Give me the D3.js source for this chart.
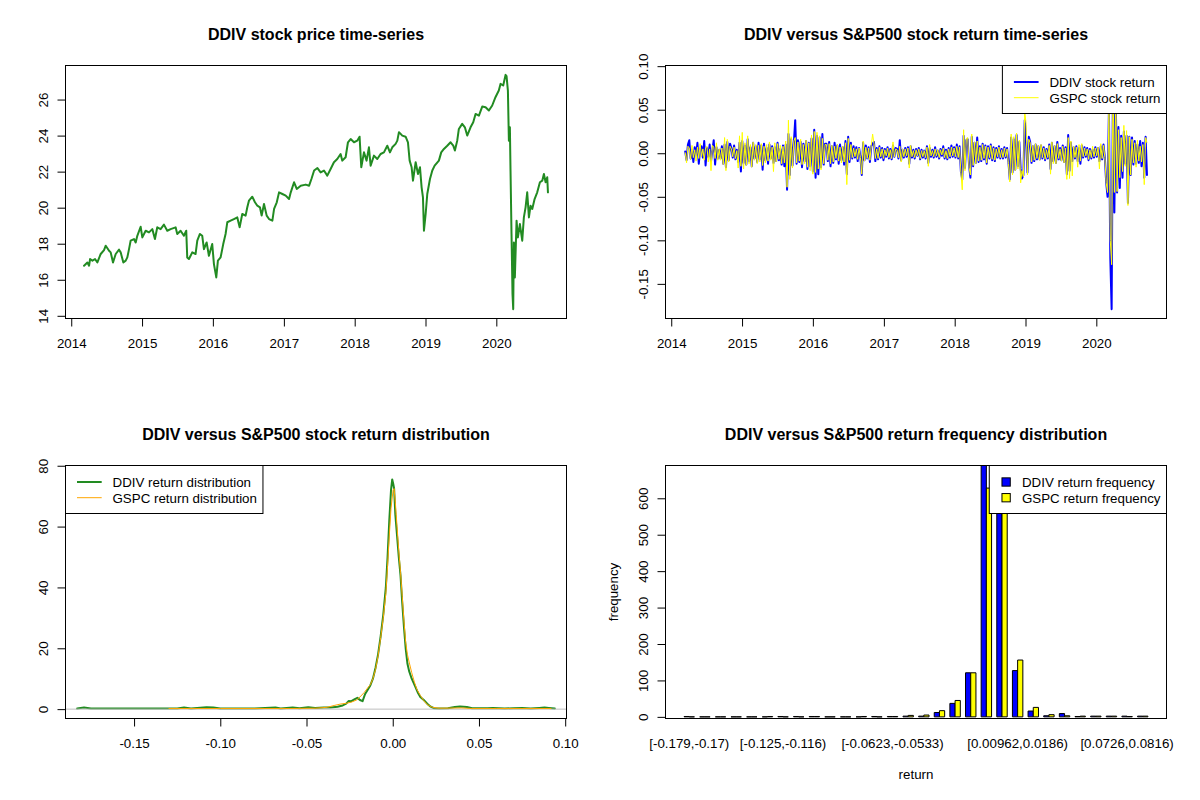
<!DOCTYPE html>
<html>
<head>
<meta charset="utf-8">
<script src="https://cdn.jsdelivr.net/npm/d3@7/dist/d3.min.js"></script>
<style>
  body { margin: 0; background: #fff; }
  svg text { font-family: "Liberation Sans", Arial, sans-serif; fill: #000; }
</style>
</head>
<body>
<svg id="chart" width="1200" height="800"></svg>
<script>
// ---- data ----

// DDIV closing price, [decimal year, price]
const ddivPrice = [
  [2014.181,16.78],[2014.228,16.96],[2014.252,16.78],[2014.266,17.15],[2014.299,17.06],[2014.336,17.15],
  [2014.369,16.96],[2014.416,17.43],[2014.463,17.65],[2014.487,17.89],[2014.534,17.61],[2014.557,17.52],
  [2014.590,16.96],[2014.628,17.43],[2014.675,17.67],[2014.698,17.52],[2014.736,16.96],[2014.769,17.06],
  [2014.792,17.24],[2014.816,17.70],[2014.839,18.17],[2014.886,18.26],[2014.910,18.07],[2014.933,18.44],
  [2014.980,18.94],[2015.004,18.35],[2015.051,18.72],[2015.098,18.63],[2015.145,18.81],[2015.182,18.26],
  [2015.215,18.91],[2015.262,18.81],[2015.309,19.06],[2015.356,18.72],[2015.403,18.81],[2015.474,18.91],
  [2015.497,18.54],[2015.544,18.72],[2015.591,18.44],[2015.624,18.72],[2015.638,17.24],[2015.662,17.15],
  [2015.709,17.52],[2015.756,17.43],[2015.780,18.17],[2015.817,18.54],[2015.850,18.44],[2015.874,17.70],
  [2015.912,18.07],[2015.944,17.33],[2015.991,17.98],[2016.015,16.87],[2016.048,16.13],[2016.071,17.06],
  [2016.109,17.24],[2016.146,17.98],[2016.179,18.54],[2016.203,19.19],[2016.250,19.28],[2016.297,19.37],
  [2016.344,19.46],[2016.377,18.91],[2016.414,19.65],[2016.461,19.56],[2016.485,20.02],[2016.508,20.39],
  [2016.555,20.61],[2016.593,20.30],[2016.626,20.11],[2016.663,20.02],[2016.687,19.56],[2016.720,20.20],
  [2016.758,19.56],[2016.791,19.37],[2016.838,19.28],[2016.862,19.93],[2016.900,20.30],[2016.932,20.85],
  [2016.979,20.76],[2017.026,20.67],[2017.073,20.48],[2017.097,20.85],[2017.144,21.41],[2017.182,21.04],
  [2017.238,21.22],[2017.309,21.28],[2017.356,21.22],[2017.389,21.59],[2017.427,22.06],[2017.474,22.20],
  [2017.519,21.96],[2017.566,22.06],[2017.613,21.78],[2017.660,22.15],[2017.707,22.52],[2017.754,22.70],
  [2017.801,22.98],[2017.825,22.61],[2017.872,22.80],[2017.905,23.63],[2017.943,23.81],[2017.990,23.63],
  [2018.036,23.72],[2018.069,23.94],[2018.093,22.24],[2018.131,23.07],[2018.168,22.61],[2018.201,23.35],
  [2018.225,22.33],[2018.272,22.89],[2018.319,22.70],[2018.366,22.98],[2018.413,23.07],[2018.460,23.44],
  [2018.498,23.07],[2018.531,23.35],[2018.578,23.54],[2018.602,23.72],[2018.625,24.19],[2018.672,24.00],
  [2018.719,23.94],[2018.752,23.63],[2018.776,22.61],[2018.804,22.24],[2018.823,21.50],[2018.861,22.52],
  [2018.894,21.87],[2018.922,22.24],[2018.945,21.13],[2018.964,20.57],[2018.978,18.72],[2019.002,19.65],
  [2019.025,20.76],[2019.063,21.59],[2019.096,22.06],[2019.129,22.33],[2019.189,22.61],[2019.222,23.07],
  [2019.260,23.26],[2019.307,23.44],[2019.354,23.63],[2019.392,23.44],[2019.415,23.17],[2019.448,23.72],
  [2019.471,24.37],[2019.518,24.65],[2019.556,24.46],[2019.589,24.00],[2019.636,24.46],[2019.674,24.74],
  [2019.707,25.20],[2019.754,25.11],[2019.801,25.61],[2019.848,25.57],[2019.895,25.39],[2019.942,25.67],
  [2019.988,26.13],[2020.035,26.50],[2020.059,26.87],[2020.097,26.78],[2020.130,27.37],[2020.144,27.30],
  [2020.163,26.50],[2020.177,23.72],[2020.191,24.46],[2020.200,22.06],[2020.214,18.54],[2020.228,15.20],
  [2020.238,14.37],[2020.247,18.07],[2020.261,16.13],[2020.285,19.28],[2020.304,18.35],[2020.332,19.09],
  [2020.365,18.17],[2020.388,19.46],[2020.412,20.02],[2020.435,20.85],[2020.459,19.46],[2020.482,20.11],
  [2020.506,19.93],[2020.539,20.48],[2020.576,20.85],[2020.614,21.41],[2020.647,21.50],[2020.670,21.87],
  [2020.694,21.41],[2020.717,21.69],[2020.727,20.85]
];

// weekly returns, first week ending 2014-03-14, one row per half year
const retStart = new Date(2014, 2, 14);
const ddivReturn = [
  0.002,-0.008,0.010,0.015,-0.006,0.004,-0.010,0.007,-0.003,0.012,-0.012,0.005,0.008,-0.005,0.014,-0.014,0.006,-0.004,0.010,-0.009,0.003,0.015,-0.013,0.007,-0.006,0.004,
  -0.006,0.008,-0.012,0.010,-0.016,0.013,-0.008,0.011,0.006,-0.005,0.009,-0.007,0.004,-0.010,0.012,-0.021,0.014,-0.011,0.009,-0.013,0.016,-0.009,0.007,-0.015,0.012,-0.006,
  0.008,-0.010,0.012,-0.007,0.009,-0.019,0.011,-0.008,0.006,-0.012,0.010,-0.006,0.008,-0.011,0.007,-0.009,0.012,-0.008,0.005,-0.013,0.009,-0.015,0.010,-0.042,0.022,-0.025,
  0.016,-0.014,0.012,0.038,-0.012,0.015,-0.010,0.013,-0.016,0.011,-0.009,0.014,-0.018,0.012,-0.015,0.017,-0.021,0.027,-0.028,0.020,-0.024,0.018,-0.016,0.022,-0.013,0.011,
  0.011,-0.009,0.013,-0.015,0.008,-0.011,0.012,-0.007,0.009,-0.012,0.010,-0.008,0.007,-0.013,0.014,-0.024,0.019,-0.010,0.012,-0.006,0.008,-0.005,0.007,-0.009,0.006,-0.004,
  -0.025,0.012,-0.008,0.009,-0.006,0.007,-0.010,0.008,0.011,0.013,-0.009,0.006,-0.007,0.008,-0.005,0.006,-0.008,0.005,-0.004,0.007,-0.006,0.005,-0.007,0.009,-0.004,0.006,
  0.005,-0.006,0.015,-0.008,0.004,-0.005,0.006,-0.004,0.007,-0.012,0.008,-0.005,0.004,-0.006,0.005,-0.003,0.006,-0.007,0.004,-0.005,0.003,-0.006,0.008,-0.011,0.006,-0.004,
  0.004,-0.005,0.007,-0.004,0.003,-0.006,0.005,-0.003,0.008,-0.006,0.004,-0.007,0.006,-0.005,0.009,-0.004,0.007,-0.005,0.010,-0.006,0.008,-0.021,-0.030,0.020,-0.017,0.015,
  0.016,-0.014,-0.028,0.019,-0.015,0.012,-0.011,0.018,-0.010,0.008,-0.009,0.011,-0.007,0.009,-0.012,0.008,-0.006,0.010,-0.008,0.007,-0.009,0.006,-0.005,0.008,-0.006,0.005,
  -0.006,0.007,-0.005,0.006,-0.010,-0.030,0.018,-0.022,0.016,-0.019,0.021,-0.015,0.013,-0.018,-0.029,-0.025,0.038,0.015,-0.022,0.019,0.013,-0.011,0.008,-0.009,0.010,-0.007,
  0.008,-0.007,0.009,-0.006,0.007,-0.008,0.005,-0.006,0.010,-0.018,0.012,-0.009,0.008,-0.011,0.013,-0.007,0.006,-0.008,0.009,-0.010,0.007,-0.024,0.021,-0.020,0.012,-0.009,
  0.007,-0.006,0.008,-0.009,0.006,-0.012,0.009,-0.005,0.007,-0.004,0.006,-0.008,0.005,-0.006,0.004,-0.005,0.007,-0.004,0.006,-0.009,0.008,-0.007,0.010,-0.005,-0.034,-0.050,
  0.050,-0.120,-0.179,0.090,-0.068,0.065,-0.045,0.030,-0.040,0.020,-0.028,0.025,-0.012,0.020,-0.057,0.019,-0.025,0.018,-0.013,0.014,-0.012,0.010,-0.011,0.014,-0.015,0.012,
  -0.028,0.019,-0.025
];
const gspcReturn = [
  0.001,-0.011,0.008,0.006,-0.007,0.009,-0.005,0.004,-0.009,0.007,-0.006,0.011,-0.004,0.005,-0.008,0.006,0.008,-0.010,0.005,-0.020,0.009,0.007,-0.006,0.012,-0.008,0.005,
  -0.008,0.006,-0.013,0.018,-0.020,0.016,-0.010,0.008,0.005,-0.004,0.007,-0.006,0.003,-0.017,0.020,-0.015,0.024,-0.018,0.012,-0.014,0.020,-0.012,0.010,-0.016,0.013,-0.008,
  0.010,-0.012,0.009,-0.010,0.011,-0.014,0.008,-0.011,0.010,-0.009,0.013,-0.008,0.007,-0.021,0.012,-0.010,0.011,-0.007,0.009,-0.012,0.008,-0.011,0.014,-0.039,0.038,-0.030,
  0.019,-0.017,0.014,0.018,-0.011,0.013,-0.009,0.016,-0.013,0.010,-0.012,0.015,-0.016,0.012,-0.020,0.021,-0.024,0.025,-0.022,0.024,-0.018,0.020,-0.019,0.017,-0.012,0.010,
  0.010,-0.008,0.011,-0.012,0.009,-0.010,0.008,-0.006,0.010,-0.009,0.007,-0.011,0.008,-0.010,0.012,-0.036,0.017,-0.008,0.010,-0.005,0.006,-0.004,0.005,-0.007,0.006,-0.005,
  -0.024,0.014,-0.009,0.007,-0.006,0.006,-0.008,0.009,0.022,0.011,-0.006,0.005,-0.006,0.007,-0.004,0.005,-0.006,0.004,-0.003,0.006,-0.005,0.004,-0.006,0.013,-0.004,0.005,
  0.004,-0.005,0.008,-0.010,0.005,-0.004,0.005,-0.003,0.006,-0.017,0.009,-0.004,0.003,-0.005,0.004,-0.003,0.005,-0.006,0.003,-0.004,0.003,-0.005,0.007,-0.015,0.010,-0.003,
  0.003,-0.004,0.005,-0.003,0.004,-0.005,0.004,-0.002,0.006,-0.005,0.003,-0.006,0.005,-0.004,0.007,-0.003,0.006,-0.004,0.008,-0.005,0.007,-0.022,-0.042,0.027,-0.020,0.017,
  0.018,-0.016,-0.025,0.022,-0.014,0.013,-0.012,0.014,-0.009,0.007,-0.008,0.010,-0.006,0.008,-0.011,0.007,-0.005,0.009,-0.007,0.006,-0.008,0.005,-0.004,0.007,-0.005,0.004,
  -0.005,0.006,-0.004,0.005,-0.012,-0.033,0.022,-0.025,0.019,-0.020,0.023,-0.018,0.015,-0.034,-0.020,-0.027,0.048,0.034,-0.025,0.016,0.012,-0.010,0.009,-0.008,0.011,-0.006,
  0.009,-0.008,0.010,-0.005,0.006,-0.007,0.004,-0.005,0.009,-0.024,0.013,-0.012,0.009,-0.012,0.011,-0.006,0.005,-0.009,0.008,-0.011,0.006,-0.030,0.018,-0.029,0.014,-0.026,
  0.008,-0.005,0.007,-0.016,0.010,-0.009,0.011,-0.004,0.006,-0.003,0.005,-0.007,0.004,-0.005,0.008,-0.004,0.006,-0.003,0.007,-0.018,0.011,-0.006,0.009,-0.005,-0.034,-0.045,
  0.046,-0.100,-0.128,0.090,-0.045,0.070,-0.044,0.027,-0.028,0.018,-0.021,0.032,-0.015,0.026,-0.060,0.019,-0.025,0.016,-0.011,0.012,-0.016,0.015,-0.009,0.008,-0.010,0.010,
  -0.036,0.018,0.012
];

// kernel density of the returns, [return, density]
const ddivDensity = [
  [-0.1830,0.2],[-0.1790,0.5],[-0.1750,0.2],[-0.1500,0.2],[-0.1250,0.2],[-0.1210,0.5],[-0.1170,0.2],
  [-0.1080,0.6],[-0.1040,0.5],[-0.1000,0.2],[-0.0800,0.2],[-0.0680,0.5],[-0.0650,0.2],[-0.0580,0.5],
  [-0.0540,0.3],[-0.0490,0.6],[-0.0450,0.4],[-0.0400,0.5],[-0.0360,0.5],[-0.0320,0.8],[-0.0290,1.2],
  [-0.0270,1.8],[-0.0255,2.7],[-0.0240,2.6],[-0.0220,3.3],[-0.0205,3.7],[-0.0190,3.0],[-0.0175,2.6],
  [-0.0160,5.0],[-0.0145,6.4],[-0.0130,7.8],[-0.0115,10.0],[-0.0100,13.5],[-0.0085,18.0],[-0.0070,24.0],
  [-0.0055,31.0],[-0.0040,40.0],[-0.0030,50.0],[-0.0020,62.0],[-0.0010,72.0],[-0.0003,75.5],[0.0003,74.0],
  [0.0008,72.5],[0.0015,64.0],[0.0025,57.0],[0.0035,50.0],[0.0045,44.0],[0.0055,35.0],[0.0065,27.0],
  [0.0075,20.0],[0.0085,15.0],[0.0095,12.5],[0.0110,10.0],[0.0130,7.5],[0.0145,5.5],[0.0160,4.0],
  [0.0180,3.0],[0.0200,1.8],[0.0220,0.8],[0.0240,0.3],[0.0270,0.2],[0.0320,0.3],[0.0360,0.7],
  [0.0390,0.9],[0.0430,0.7],[0.0460,0.3],[0.0550,0.3],[0.0580,0.4],[0.0650,0.2],[0.0700,0.3],
  [0.0750,0.4],[0.0800,0.2],[0.0850,0.4],[0.0880,0.5],[0.0905,0.4],[0.0940,0.2]
];
const gspcDensity = [
  [-0.1300,0.2],[-0.1000,0.2],[-0.0600,0.2],[-0.0450,0.3],[-0.0380,0.6],[-0.0340,1.2],[-0.0300,1.7],
  [-0.0270,1.9],[-0.0240,2.3],[-0.0210,3.0],[-0.0190,4.0],[-0.0165,5.5],[-0.0145,7.0],[-0.0130,8.0],
  [-0.0115,10.0],[-0.0100,13.0],[-0.0085,17.5],[-0.0070,23.5],[-0.0055,30.0],[-0.0040,38.0],[-0.0030,47.0],
  [-0.0020,57.0],[-0.0010,66.0],[0.0002,72.0],[0.0008,72.5],[0.0015,68.0],[0.0025,60.0],[0.0035,52.0],
  [0.0045,45.0],[0.0055,37.0],[0.0065,29.0],[0.0075,22.0],[0.0085,18.0],[0.0095,15.5],[0.0110,12.0],
  [0.0125,9.0],[0.0140,6.5],[0.0160,4.5],[0.0180,2.8],[0.0200,1.5],[0.0230,0.6],[0.0270,0.3],
  [0.0400,0.4],[0.0460,0.2],[0.0600,0.2],[0.0920,0.2]
];
const densityYLim = [0, 77];

// return frequency table (30 bins)
const binLabels = [
  "[-0.179,-0.17)","[-0.17,-0.161)","[-0.161,-0.152)","[-0.152,-0.143)","[-0.143,-0.134)",
  "[-0.134,-0.125)","[-0.125,-0.116)","[-0.116,-0.107)","[-0.107,-0.0983)","[-0.0983,-0.0893)",
  "[-0.0893,-0.0803)","[-0.0803,-0.0713)","[-0.0713,-0.0623)","[-0.0623,-0.0533)","[-0.0533,-0.0443)",
  "[-0.0443,-0.0353)","[-0.0353,-0.0264)","[-0.0264,-0.0174)","[-0.0174,-0.00837)","[-0.00837,0.000627)",
  "[0.000627,0.00962)","[0.00962,0.0186)","[0.0186,0.0276)","[0.0276,0.0366)","[0.0366,0.0456)",
  "[0.0456,0.0546)","[0.0546,0.0636)","[0.0636,0.0726)","[0.0726,0.0816)","[0.0816,0.0906]"
];
const ddivFreq = [1,0,0,0,0,0,1,1,1,0,0,0,1,1,2,2,12,37,121,735,575,127,16,3,9,1,2,2,2,2];
const gspcFreq = [0,0,0,0,0,1,0,0,1,0,0,1,0,1,4,5,17,45,121,628,625,156,26,6,3,2,2,2,1,2];
const freqUsr = [-4.5, 690];

// ---- layout ----
const svg = d3.select("#chart");
const PW = 600, PH = 400;
const X0 = 65.5, X1 = 566.5, Y0 = 65.5, Y1 = 318.5;
const FS = 13.33;

function rPad(ext) {
  const d = (ext[1] - ext[0]) * 0.04;
  return [ext[0] - d, ext[1] + d];
}

function yearToDate(y) {
  const yr = Math.floor(y);
  const a = new Date(yr, 0, 1), b = new Date(yr + 1, 0, 1);
  return new Date(+a + (y - yr) * (b - a));
}

function makePanel(col, row, id, title) {
  const g = svg.append("g").attr("transform", `translate(${col * PW},${row * PH})`);
  g.append("clipPath").attr("id", id)
    .append("rect").attr("x", X0).attr("y", Y0).attr("width", X1 - X0).attr("height", Y1 - Y0);
  g.append("text")
    .attr("x", (X0 + X1) / 2).attr("y", 39.7)
    .attr("text-anchor", "middle").attr("font-weight", "bold").attr("font-size", 16)
    .text(title);
  const plot = g.append("g").attr("clip-path", `url(#${id})`);
  return { g, plot };
}

function bottomAxis(g, scale, ticks, fmt) {
  const ax = g.append("g").attr("transform", `translate(0,${Y1})`)
    .call(d3.axisBottom(scale).tickValues(ticks).tickFormat(fmt).tickSize(8).tickSizeOuter(0));
  ax.attr("font-size", FS).attr("font-family", null);
  ax.select(".domain").remove();
  ax.selectAll("line").attr("stroke", "#000");
  ax.selectAll("text").attr("y", 29.4).attr("dy", null);
}

function leftAxis(g, scale, ticks, fmt) {
  const ax = g.append("g").attr("transform", `translate(${X0},0)`)
    .call(d3.axisLeft(scale).tickValues(ticks).tickFormat(fmt).tickSize(8).tickSizeOuter(0));
  ax.attr("font-size", FS).attr("font-family", null);
  ax.select(".domain").remove();
  ax.selectAll("line").attr("stroke", "#000");
  ax.selectAll("text")
    .attr("x", null).attr("dy", null)
    .attr("text-anchor", "middle")
    .attr("transform", "translate(-17.5,0) rotate(-90)");
}

function box(g) {
  g.append("rect").attr("x", X0).attr("y", Y0).attr("width", X1 - X0).attr("height", Y1 - Y0)
    .attr("fill", "none").attr("stroke", "#000").attr("stroke-width", 1);
}

// R-style legend box in the top-left or top-right corner of the plot region
function legend(g, kind, corner, items) {
  const lg = g.append("g");
  const bg = lg.append("rect").attr("fill", "#fff").attr("stroke", "#000").attr("stroke-width", 1);
  const rows = [16.5, 32.2];
  const textX = kind === "fill" ? 32.7 : 47;
  let maxW = 0;
  items.forEach((it, i) => {
    if (kind === "fill") {
      lg.append("rect").attr("x", 12.7).attr("y", rows[i] - 4.15).attr("width", 8.3).attr("height", 8.3)
        .attr("fill", it.color).attr("stroke", "#000").attr("stroke-width", 1);
    } else {
      lg.append("line").attr("x1", 11.5).attr("x2", 36.2).attr("y1", rows[i]).attr("y2", rows[i])
        .attr("stroke", it.color).attr("stroke-width", it.width);
    }
    const t = lg.append("text").attr("x", textX).attr("y", rows[i] + 4.8).attr("font-size", FS).text(it.label);
    maxW = Math.max(maxW, t.node().getComputedTextLength());
  });
  const w = textX + maxW + 6;
  bg.attr("x", 0).attr("y", 0).attr("width", w).attr("height", 48);
  lg.attr("transform", `translate(${corner === "left" ? X0 : X1 - w},${Y0})`);
}

function seriesLine(xf, yf) {
  return d3.line().x(xf).y(yf);
}

// shared time scale of the two top panels
const dateExt = d3.extent(ddivPrice, d => +yearToDate(d[0]));
const xTime = d3.scaleTime().domain(rPad(dateExt).map(v => new Date(v))).range([X0, X1]);
const yearTicks = xTime.ticks(d3.timeYear);
const retExt = d3.extent(ddivReturn.concat(gspcReturn));
const fmt2 = d => d.toFixed(2);

// ---- panel 1: price ----
{
  const { g, plot } = makePanel(0, 0, "clipA", "DDIV stock price time-series");
  const y = d3.scaleLinear().domain(rPad(d3.extent(ddivPrice, d => d[1]))).range([Y1, Y0]);
  plot.append("path").datum(ddivPrice)
    .attr("d", seriesLine(d => xTime(yearToDate(d[0])), d => y(d[1])))
    .attr("fill", "none").attr("stroke", "#228B22").attr("stroke-width", 2)
    .attr("stroke-linejoin", "round").attr("stroke-linecap", "round");
  bottomAxis(g, xTime, yearTicks, d3.timeFormat("%Y"));
  leftAxis(g, y, y.ticks(7), d3.format("d"));
  box(g);
}

// ---- panel 2: returns ----
{
  const { g, plot } = makePanel(1, 0, "clipB", "DDIV versus S&P500 stock return time-series");
  const y = d3.scaleLinear().domain(rPad(retExt)).range([Y1, Y0]);
  const weekX = (d, i) => xTime(d3.timeWeek.offset(retStart, i));
  plot.append("path").datum(ddivReturn)
    .attr("d", seriesLine(weekX, d => y(d)))
    .attr("fill", "none").attr("stroke", "#0000FF").attr("stroke-width", 2)
    .attr("stroke-linejoin", "round").attr("stroke-linecap", "round");
  plot.append("path").datum(gspcReturn)
    .attr("d", seriesLine(weekX, d => y(d)))
    .attr("fill", "none").attr("stroke", "#FFFF00").attr("stroke-width", 1)
    .attr("stroke-linejoin", "round");
  bottomAxis(g, xTime, yearTicks, d3.timeFormat("%Y"));
  leftAxis(g, y, y.ticks(6), fmt2);
  box(g);
  legend(g, "line", "right", [
    { label: "DDIV stock return", color: "#0000FF", width: 2 },
    { label: "GSPC stock return", color: "#FFFF00", width: 1 }
  ]);
}

// ---- panel 3: density ----
{
  const { g, plot } = makePanel(0, 1, "clipC", "DDIV versus S&P500 stock return distribution");
  const x = d3.scaleLinear().domain(rPad(retExt)).range([X0, X1]);
  const y = d3.scaleLinear().domain(rPad(densityYLim)).range([Y1, Y0]);
  plot.append("path").datum(ddivDensity)
    .attr("d", seriesLine(d => x(d[0]), d => y(d[1])))
    .attr("fill", "none").attr("stroke", "#228B22").attr("stroke-width", 2)
    .attr("stroke-linejoin", "round").attr("stroke-linecap", "round");
  plot.append("line").attr("x1", X0).attr("x2", X1).attr("y1", y(0)).attr("y2", y(0))
    .attr("stroke", "#BEBEBE").attr("stroke-width", 1);
  plot.append("path").datum(gspcDensity)
    .attr("d", seriesLine(d => x(d[0]), d => y(d[1])))
    .attr("fill", "none").attr("stroke", "#FFA500").attr("stroke-width", 1)
    .attr("stroke-linejoin", "round");
  bottomAxis(g, x, x.ticks(6), fmt2);
  leftAxis(g, y, y.ticks(5), d3.format("d"));
  box(g);
  legend(g, "line", "left", [
    { label: "DDIV return distribution", color: "#228B22", width: 2 },
    { label: "GSPC return distribution", color: "#FFA500", width: 1 }
  ]);
}

// ---- panel 4: frequency bars ----
{
  const { g, plot } = makePanel(1, 1, "clipD", "DDIV versus S&P500 return frequency distribution");
  // barplot units: group i has bars at [1+3i, 2+3i] and [2+3i, 3+3i]
  const x = d3.scaleLinear().domain(rPad([1, 3 * binLabels.length])).range([X0, X1]);
  const y = d3.scaleLinear().domain(freqUsr).range([Y1, Y0]);
  const barPath = (u, v) => `M${x(u)},${y(0)}H${x(u + 1)}V${y(v)}H${x(u)}Z`;
  const series = [
    { values: ddivFreq, color: "#0000FF", offset: 1 },
    { values: gspcFreq, color: "#FFFF00", offset: 2 }
  ];
  series.forEach(s => {
    plot.append("g").selectAll("path").data(s.values).join("path")
      .attr("d", (v, i) => barPath(3 * i + s.offset, v))
      .attr("fill", s.color).attr("stroke", "#000").attr("stroke-width", 1);
  });
  leftAxis(g, y, y.ticks(7), d3.format("d"));
  // category labels, skipped where they would overlap (as R does)
  const labG = g.append("g").attr("font-size", FS);
  let lastRight = -Infinity;
  binLabels.forEach((lab, i) => {
    const cx = x(3 * i + 2);
    const t = labG.append("text").attr("x", cx).attr("y", Y1 + 29.4).attr("text-anchor", "middle").text(lab);
    const w = t.node().getComputedTextLength();
    if (cx - w / 2 < lastRight + 8) t.remove();
    else lastRight = cx + w / 2;
  });
  g.append("text").attr("x", (X0 + X1) / 2).attr("y", Y1 + 60.4)
    .attr("text-anchor", "middle").attr("font-size", FS).text("return");
  g.append("text").attr("text-anchor", "middle").attr("font-size", FS)
    .attr("transform", `translate(${X0 - 47.7},${(Y0 + Y1) / 2}) rotate(-90)`).text("frequency");
  box(g);
  legend(g, "fill", "right", [
    { label: "DDIV return frequency", color: "#0000FF" },
    { label: "GSPC return frequency", color: "#FFFF00" }
  ]);
}
</script>
</body>
</html>
